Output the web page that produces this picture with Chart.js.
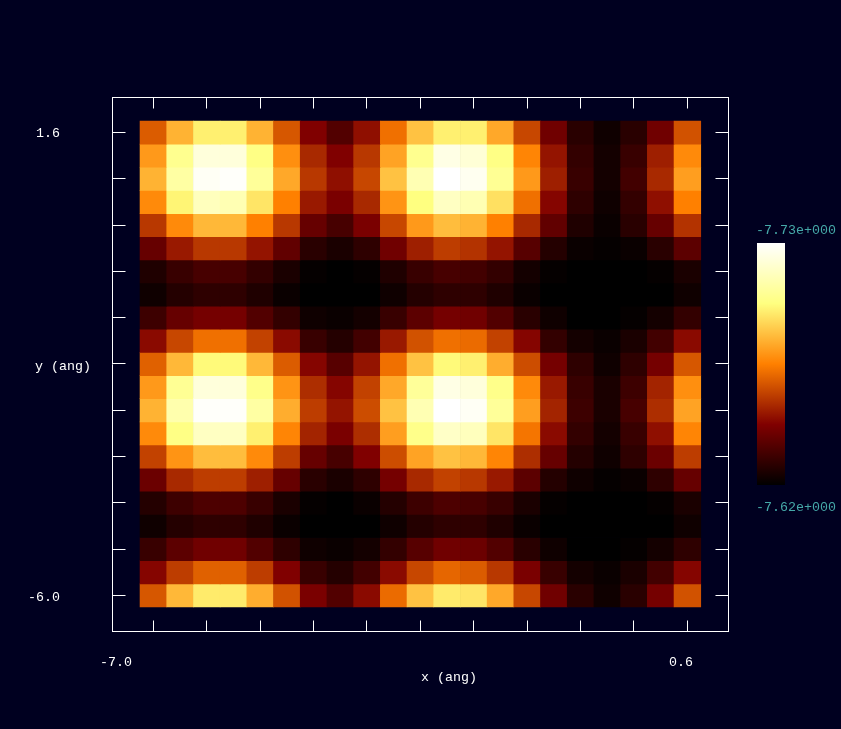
<!DOCTYPE html>
<html>
<head>
<meta charset="utf-8">
<title>x-y map</title>
<script src="https://cdn.jsdelivr.net/npm/chart.js@4"></script>
<style>
    html, body { margin: 0; padding: 0; background: #000020; }
    #wrap { position: relative; width: 841px; height: 729px; overflow: hidden; }
    #mapChart { position: absolute; left: 0; top: 0; }
    #barChart { position: absolute; left: 757px; top: 243px; }
</style>
</head>
<body>
<div id="wrap">
    <canvas id="mapChart" width="841" height="729"></canvas>
    <canvas id="barChart" width="28" height="242"></canvas>
</div>
<script>
const xValues = [-7.00, -6.62, -6.24, -5.86, -5.48, -5.10, -4.72, -4.34, -3.96, -3.58, -3.20, -2.82, -2.44, -2.06, -1.68, -1.30, -0.92, -0.54, -0.16, 0.22, 0.60];
const yValues = [1.60, 1.22, 0.84, 0.46, 0.08, -0.30, -0.68, -1.06, -1.44, -1.82, -2.20, -2.58, -2.96, -3.34, -3.72, -4.10, -4.48, -4.86, -5.24, -5.62, -6.00];
const xTicks = [-7.00, -6.24, -5.48, -4.72, -3.96, -3.20, -2.44, -1.68, -0.92, -0.16, 0.60];
const yTicks = [1.60, 0.84, 0.08, -0.68, -1.44, -2.20, -2.96, -3.72, -4.48, -5.24, -6.00];
const zRange = [-7.62, -7.73];

// level for each cell, one row per y: 0 is -7.62, 1 is -7.73
const zLevels = [
    [.43, .60, .72, .72, .60, .42, .25, .16, .28, .47, .63, .72, .72, .58, .39, .22, .08, .03, .08, .22, .41],
    [.55, .78, .93, .93, .76, .53, .33, .25, .36, .57, .78, .95, .92, .76, .51, .29, .10, .04, .11, .31, .52],
    [.60, .82, .98, .99, .80, .58, .36, .28, .39, .63, .85, 1.0, .97, .79, .55, .31, .11, .04, .13, .33, .56],
    [.52, .73, .87, .85, .70, .50, .30, .24, .33, .54, .75, .88, .85, .69, .47, .26, .09, .03, .10, .28, .50],
    [.36, .52, .61, .61, .50, .36, .20, .14, .24, .39, .55, .62, .60, .50, .33, .19, .06, .02, .08, .20, .35],
    [.20, .30, .36, .36, .29, .19, .08, .05, .09, .22, .31, .37, .35, .29, .17, .07, .02, .01, .02, .08, .18],
    [.06, .11, .14, .14, .10, .05, .01, .00, .01, .06, .11, .14, .13, .10, .04, .01, .00, .00, .00, .01, .05],
    [.03, .07, .09, .09, .06, .02, .00, .00, .00, .03, .07, .09, .09, .06, .02, .00, .00, .00, .00, .00, .03],
    [.12, .20, .23, .23, .16, .10, .03, .02, .04, .11, .18, .23, .22, .16, .08, .03, .00, .00, .01, .04, .10],
    [.27, .39, .47, .47, .38, .27, .11, .07, .13, .30, .41, .47, .46, .38, .26, .10, .04, .02, .05, .13, .27],
    [.44, .61, .74, .74, .61, .43, .26, .17, .29, .47, .63, .74, .72, .59, .40, .23, .09, .03, .09, .23, .42],
    [.55, .79, .93, .93, .77, .54, .34, .26, .38, .58, .80, .95, .93, .77, .52, .30, .11, .05, .12, .32, .53],
    [.60, .84, .99, .99, .82, .59, .37, .29, .40, .63, .85, 1.0, .98, .80, .56, .32, .12, .05, .14, .34, .57],
    [.52, .76, .88, .88, .72, .51, .32, .24, .34, .56, .77, .89, .87, .70, .48, .27, .10, .04, .11, .28, .51],
    [.38, .54, .62, .62, .52, .37, .20, .14, .25, .40, .57, .63, .61, .51, .34, .20, .07, .03, .09, .21, .37],
    [.21, .33, .37, .37, .31, .20, .08, .05, .09, .23, .33, .38, .36, .30, .18, .07, .03, .01, .02, .09, .20],
    [.07, .12, .15, .15, .11, .05, .01, .00, .02, .07, .12, .15, .14, .11, .05, .01, .00, .00, .00, .01, .05],
    [.03, .07, .09, .09, .06, .02, .00, .00, .00, .03, .07, .09, .09, .06, .02, .00, .00, .00, .00, .00, .03],
    [.11, .18, .22, .22, .16, .09, .03, .02, .04, .10, .17, .22, .21, .16, .08, .03, .00, .00, .01, .04, .09],
    [.26, .37, .44, .44, .37, .25, .11, .07, .13, .27, .39, .45, .43, .36, .24, .11, .04, .02, .05, .13, .26],
    [.42, .61, .71, .71, .59, .41, .24, .16, .27, .46, .63, .71, .70, .58, .39, .22, .08, .03, .08, .23, .41]
];

// black, dark red, orange, pale yellow, white
const rampStops = ['#000000', '#800000', '#ff8000', '#ffff80', '#ffffff'];

const labelFont = '13.3px "Liberation Mono", monospace';
const pageLabels = [
    { text: '1.6', x: 60, y: 133, align: 'right', color: '#ffffff' },
    { text: '-6.0', x: 60, y: 597, align: 'right', color: '#ffffff' },
    { text: 'y (ang)', x: 63, y: 366, align: 'center', color: '#ffffff' },
    { text: '-7.0', x: 116, y: 662, align: 'center', color: '#ffffff' },
    { text: '0.6', x: 681, y: 662, align: 'center', color: '#ffffff' },
    { text: 'x (ang)', x: 449, y: 677, align: 'center', color: '#ffffff' },
    { text: '-7.73e+000', x: 796, y: 230, align: 'center', color: '#45a8a8' },
    { text: '-7.62e+000', x: 796, y: 507, align: 'center', color: '#45a8a8' }
];

const levelColor = (t) => {
    const r = Math.min(1, 2 * t);
    const g = Math.max(0, Math.min(1, 2 * t - 0.5));
    const b = Math.max(0, Math.min(1, 2 * t - 1));
    return `rgb(${Math.round(r * 255)},${Math.round(g * 255)},${Math.round(b * 255)})`;
};

const halfRow = (yValues[0] - yValues[1]) / 2;

// one floating bar per cell, one dataset per row
const rowDatasets = zLevels.map((row, r) => ({
    data: row.map((t, c) => ({ x: xValues[c], y: [yValues[r] - halfRow, yValues[r] + halfRow] })),
    backgroundColor: row.map(levelColor),
    borderWidth: 0,
    barPercentage: 1,
    categoryPercentage: 1,
    grouped: false
}));

const textPlugin = {
    id: 'pageText',
    afterDraw(chart) {
        const ctx = chart.ctx;
        ctx.save();
        ctx.font = labelFont;
        ctx.textBaseline = 'middle';
        pageLabels.forEach(l => {
            ctx.fillStyle = l.color;
            ctx.textAlign = l.align;
            ctx.fillText(l.text, l.x, l.y);
        });
        ctx.restore();
    }
};

const frameAxis = (position, min, max, tickValues, tickLength, size) => ({
    type: 'linear',
    position: position,
    min: min,
    max: max,
    offset: false,
    afterBuildTicks: (scale) => { scale.ticks = tickValues.map(v => ({ value: v })); },
    afterFit: (scale) => {
        if (position === 'left' || position === 'right') scale.width = size;
        else scale.height = size;
    },
    ticks: { display: false, autoSkip: false },
    border: { display: true, color: '#ffffff', width: 1 },
    grid: { drawOnChartArea: false, drawTicks: true, color: '#ffffff', lineWidth: 1, tickLength: tickLength, offset: false }
});

const xMin = -7.582, xMax = 1.185, yMin = -6.593, yMax = 2.176;

new Chart(document.getElementById('mapChart'), {
    type: 'bar',
    data: { datasets: rowDatasets },
    plugins: [textPlugin],
    options: {
        responsive: false,
        animation: false,
        devicePixelRatio: 1,
        layout: { padding: 0 },
        plugins: { legend: { display: false }, tooltip: { enabled: false } },
        scales: {
            x: frameAxis('bottom', xMin, xMax, xTicks, -11, 97.5),
            y: frameAxis('left', yMin, yMax, yTicks, -13, 112.5),
            xTop: frameAxis('top', xMin, xMax, xTicks, -11, 97.5),
            yRight: frameAxis('right', yMin, yMax, yTicks, -13, 112.5)
        }
    }
});

const barCanvas = document.getElementById('barChart');
const barGradient = barCanvas.getContext('2d').createLinearGradient(0, 0, 0, barCanvas.height);
rampStops.forEach((c, i) => barGradient.addColorStop(1 - i / (rampStops.length - 1), c));

new Chart(barCanvas, {
    type: 'bar',
    data: {
        labels: ['z'],
        datasets: [{
            data: [zRange],
            backgroundColor: barGradient,
            borderWidth: 0,
            barPercentage: 1,
            categoryPercentage: 1
        }]
    },
    options: {
        responsive: false,
        animation: false,
        devicePixelRatio: 1,
        layout: { padding: 0 },
        plugins: { legend: { display: false }, tooltip: { enabled: false } },
        scales: {
            x: { display: false },
            y: { display: false, min: zRange[1], max: zRange[0], reverse: true }
        }
    }
});
</script>
</body>
</html>
